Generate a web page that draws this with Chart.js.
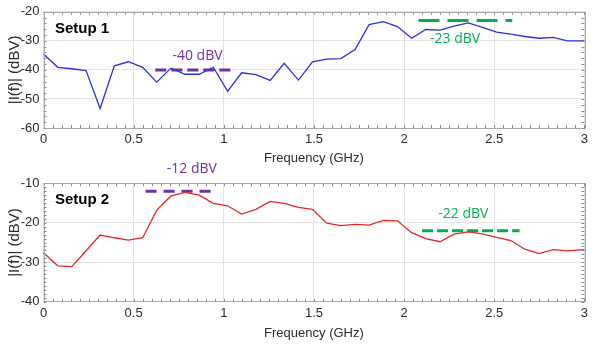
<!DOCTYPE html>
<html>
<head>
<meta charset="utf-8">
<script src="https://cdn.jsdelivr.net/npm/chart.js@4/dist/chart.umd.min.js"></script>
<style>
  html, body { margin: 0; padding: 0; background: #ffffff; }
  #wrap { position: relative; width: 592px; height: 345px; overflow: hidden; }
  canvas { position: absolute; left: 0; }
  #c1 { top: 0; }
  #c2 { top: 150px; }
</style>
</head>
<body>
<div id="wrap">
  <canvas id="c1" width="592" height="170"></canvas>
  <canvas id="c2" width="592" height="195"></canvas>
</div>
<script>
// Frequency samples (GHz)
const freqGHz = [0, 0.079, 0.157, 0.236, 0.314, 0.393, 0.471, 0.550, 0.628, 0.707,
  0.785, 0.864, 0.942, 1.021, 1.099, 1.178, 1.257, 1.335, 1.414, 1.492,
  1.571, 1.649, 1.728, 1.806, 1.885, 1.963, 2.042, 2.120, 2.199, 2.277,
  2.356, 2.435, 2.513, 2.592, 2.670, 2.749, 2.827, 2.906, 3.0];

// |I(f)| for setup 1 (dBV)
const setup1 = [-34.5, -39.1, -39.6, -40.2, -53.3, -38.6, -37.2, -39.1, -44.2, -39.4,
  -41.5, -41.5, -39.1, -47.4, -41.0, -41.6, -43.6, -37.7, -43.5, -37.2,
  -36.3, -36.1, -33.0, -24.4, -23.4, -25.1, -29.1, -26.1, -26.3, -24.9,
  -23.8, -25.4, -27.0, -27.7, -28.5, -29.1, -28.8, -30.0, -30.0];

// |I(f)| for setup 2 (dBV)
const setup2 = [-27.6, -30.9, -31.1, -27.1, -23.1, -23.8, -24.4, -23.8, -16.8, -13.2,
  -12.3, -13.0, -15.1, -15.7, -17.8, -16.6, -14.6, -15.1, -16.1, -16.6,
  -20.1, -20.7, -20.4, -20.6, -19.4, -19.5, -22.5, -24.0, -24.8, -22.9,
  -22.3, -22.8, -23.7, -24.5, -26.7, -27.8, -26.8, -27.1, -26.8];

// Band levels: [start GHz, end GHz, level dBV]
const band1Low  = [0.62, 1.04, -40];
const band1High = [2.08, 2.60, -23];
const band2Low  = [0.566, 0.93, -12];
const band2High = [2.10, 2.64, -22];

// Axis ranges
const xRange = [0, 3];
const y1Range = [-60, -20];
const y2Range = [-40, -10];

const PURPLE = '#7030a0';
const GREEN = '#00b050';
const TICK_COLOR = '#2b2b2b';
const GRID_COLOR = '#e3e3e3';

function toPoints(xs, ys) { return xs.map((x, i) => ({ x: x, y: ys[i] })); }
function bandPoints(b) { return [{ x: b[0], y: b[2] }, { x: b[1], y: b[2] }]; }

// Frame, minor ticks and text annotations drawn on top of the plot area
function decorPlugin(cfg) {
  return {
    id: 'decor',
    afterDatasetsDraw(chart) {
      const ctx = chart.ctx;
      const a = chart.chartArea;
      const xs = chart.scales.x, ys = chart.scales.y;
      ctx.save();
      // minor ticks
      ctx.strokeStyle = '#8c8c8c';
      ctx.lineWidth = 1;
      ctx.beginPath();
      for (let v = xs.min; v <= xs.max + 1e-9; v += 0.05) {
        const px = Math.round(xs.getPixelForValue(v)) + 0.5;
        ctx.moveTo(px, a.bottom); ctx.lineTo(px, a.bottom - 3);
        ctx.moveTo(px, a.top); ctx.lineTo(px, a.top + 3);
      }
      for (let v = ys.min; v <= ys.max + 1e-9; v += cfg.yMinor) {
        const py = Math.round(ys.getPixelForValue(v)) + 0.5;
        ctx.moveTo(a.left, py); ctx.lineTo(a.left + 3, py);
        ctx.moveTo(a.right, py); ctx.lineTo(a.right - 3, py);
      }
      ctx.stroke();
      // frame
      ctx.strokeStyle = '#a6a6a6';
      ctx.strokeRect(Math.round(a.left) + 0.5, Math.round(a.top) + 0.5,
        Math.round(a.right - a.left), Math.round(a.bottom - a.top));
      // panel title
      ctx.fillStyle = '#000000';
      ctx.font = 'bold 15px "Liberation Sans", Arial, sans-serif';
      ctx.textAlign = 'left';
      ctx.textBaseline = 'alphabetic';
      ctx.fillText(cfg.title, a.left + 11.5, a.top + cfg.titleDy);
      // level labels
      ctx.font = '14px "Open Sans", "Noto Sans", sans-serif';
      ctx.textAlign = 'center';
      cfg.labels.forEach(l => {
        ctx.fillStyle = l.color;
        ctx.fillText(l.text, xs.getPixelForValue(l.x), ys.getPixelForValue(l.y) + l.dy);
      });
      ctx.restore();
    }
  };
}

function makeChart(id, cfg) {
  const tickFont = { family: '"Liberation Sans", Arial, sans-serif', size: 13 };
  return new Chart(document.getElementById(id), {
    type: 'line',
    data: {
      datasets: [
        { data: toPoints(freqGHz, cfg.values), borderColor: cfg.lineColor, borderWidth: 1.3,
          pointRadius: 0, tension: 0, fill: false },
        { data: bandPoints(cfg.bandLow), borderColor: PURPLE, borderWidth: 3,
          borderDash: cfg.dashLow, pointRadius: 0, fill: false },
        { data: bandPoints(cfg.bandHigh), borderColor: GREEN, borderWidth: 3,
          borderDash: cfg.dashHigh, pointRadius: 0, fill: false }
      ]
    },
    options: {
      responsive: false,
      animation: false,
      clip: false,
      layout: { padding: { left: 0, right: 5.3, top: cfg.padTop, bottom: 0 } },
      plugins: { legend: { display: false }, tooltip: { enabled: false } },
      scales: {
        x: {
          type: 'linear', min: xRange[0], max: xRange[1],
          ticks: { stepSize: 0.5, font: tickFont, color: TICK_COLOR, padding: 4, maxRotation: 0,
            callback: v => String(Math.round(v * 10) / 10) },
          grid: { color: GRID_COLOR, drawTicks: false },
          border: { display: false },
          title: { display: true, text: 'Frequency (GHz)', font: tickFont, color: TICK_COLOR,
            padding: { top: 0, bottom: 4 } },
          afterFit(s) { s.height = cfg.xHeight; }
        },
        y: {
          type: 'linear', min: cfg.yRange[0], max: cfg.yRange[1],
          ticks: { stepSize: 10, font: tickFont, color: TICK_COLOR, padding: 4 },
          grid: { color: GRID_COLOR, drawTicks: false },
          border: { display: false },
          title: { display: true, text: '|I(f)| (dBV)',
            font: { family: '"Liberation Sans", Arial, sans-serif', size: 15 }, color: TICK_COLOR,
            padding: { top: 6, bottom: 0 } },
          afterFit(s) { s.width = 43.5; }
        }
      }
    },
    plugins: [decorPlugin(cfg)]
  });
}

makeChart('c1', {
  values: setup1, lineColor: '#2f2fe0', yRange: y1Range, yMinor: 2,
  bandLow: band1Low, bandHigh: band1High, dashLow: [11, 5], dashHigh: [21, 8],
  padTop: 9, xHeight: 42, title: 'Setup 1', titleDy: 21.5,
  labels: [
    { text: '-40 dBV', x: 0.854, y: band1Low[2], dy: -10, color: PURPLE },
    { text: '-23 dBV', x: 2.283, y: band1High[2], dy: 22.6, color: GREEN }
  ]
});

makeChart('c2', {
  values: setup2, lineColor: '#e8262a', yRange: y2Range, yMinor: 1,
  bandLow: band2Low, bandHigh: band2High, dashLow: [11, 7], dashHigh: [11, 4],
  padTop: 33.3, xHeight: 43.3, title: 'Setup 2', titleDy: 20.2,
  labels: [
    { text: '-12 dBV', x: 0.823, y: band2Low[2], dy: -18, color: PURPLE },
    { text: '-22 dBV', x: 2.329, y: band2High[2], dy: -12.4, color: GREEN }
  ]
});
</script>
</body>
</html>
